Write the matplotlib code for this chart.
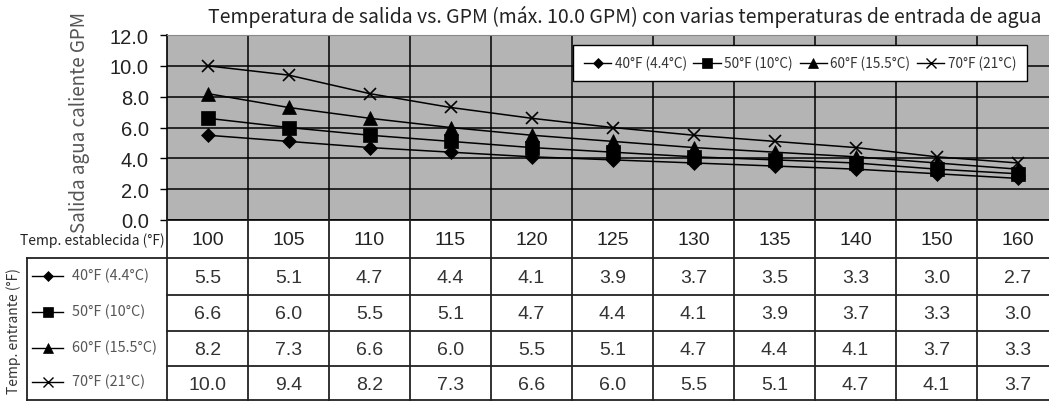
import matplotlib
matplotlib.use("Agg")
import matplotlib.pyplot as plt
from matplotlib.lines import Line2D

# ---- data ----
set_temps = ["100", "105", "110", "115", "120", "125", "130", "135", "140", "150", "160"]
series_labels = ["40°F (4.4°C)", "50°F (10°C)", "60°F (15.5°C)", "70°F (21°C)"]
gpm_40 = [5.5, 5.1, 4.7, 4.4, 4.1, 3.9, 3.7, 3.5, 3.3, 3.0, 2.7]
gpm_50 = [6.6, 6.0, 5.5, 5.1, 4.7, 4.4, 4.1, 3.9, 3.7, 3.3, 3.0]
gpm_60 = [8.2, 7.3, 6.6, 6.0, 5.5, 5.1, 4.7, 4.4, 4.1, 3.7, 3.3]
gpm_70 = [10.0, 9.4, 8.2, 7.3, 6.6, 6.0, 5.5, 5.1, 4.7, 4.1, 3.7]
y_ticks = [0.0, 2.0, 4.0, 6.0, 8.0, 10.0, 12.0]
title = "Temperatura de salida vs. GPM (máx. 10.0 GPM) con varias temperaturas de entrada de agua"
y_label = "Salida agua caliente GPM"
header_label = "Temp. establecida (°F)"
row_axis_label = "Temp. entrante (°F)"

series = [gpm_40, gpm_50, gpm_60, gpm_70]
markers = ["D", "s", "^", "x"]
msizes = [7, 10, 10, 9]
lmsizes = [5, 7, 7, 7]

SANS = ["Noto Sans CJK JP", "DejaVu Sans"]
NUM = ["Liberation Sans", "DejaVu Sans"]

W, H = 1049, 402
fig = plt.figure(figsize=(W / 100, H / 100), dpi=100)
fig.patch.set_facecolor("white")

col_w = 81
x0 = 167
ncol = len(set_temps)
ax_w = col_w * ncol
top_px, bot_px = 36, 221

ax = fig.add_axes([x0 / W, 1 - bot_px / H, ax_w / W, (bot_px - top_px) / H])
ax.set_facecolor("#b4b4b4")
xs = list(range(ncol))
for vals, m, ms in zip(series, markers, msizes):
    ax.plot(xs, vals, color="black", lw=1.1, marker=m, ms=ms,
            mew=1.2 if m == "x" else 0.5, mfc="black", mec="black", zorder=3)
ax.set_xlim(-0.5, ncol - 0.5)
ax.set_ylim(0, 12)
ax.set_yticks(y_ticks)
ax.set_yticklabels([f"{v:.1f}" for v in y_ticks], fontfamily=NUM, fontsize=14.5, color="#222")
ax.set_xticks([i + 0.5 for i in range(ncol - 1)])
ax.set_xticklabels([])
ax.tick_params(axis="x", length=0)
ax.tick_params(axis="y", length=5, width=1, color="black", pad=8)
ax.grid(True, axis="both", color="black", lw=1.1, zorder=1)
ax.set_axisbelow(True)
ax.spines["right"].set_visible(False)
ax.spines["top"].set_color("#888")
ax.spines["left"].set_color("black")
ax.spines["left"].set_linewidth(1.2)
ax.spines["bottom"].set_color("black")
ax.spines["bottom"].set_linewidth(1.2)

handles = [Line2D([0], [0], color="black", lw=1.0, marker=m, ms=ms, mfc="black", mec="black",
                  mew=1.0 if m == "x" else 0.5)
           for m, ms in zip(markers, lmsizes)]
leg = ax.legend(handles, series_labels, ncol=4, loc="upper left",
                bbox_to_anchor=((573 - x0) / ax_w, 1 - (46 - top_px) / (bot_px - top_px)),
                frameon=True, fancybox=False, edgecolor="black", framealpha=1,
                prop={"family": SANS, "size": 9.8}, handlelength=2.0, handletextpad=0.25,
                columnspacing=0.5, borderpad=0.8, borderaxespad=0)
leg.get_frame().set_linewidth(1.0)
for t in leg.get_texts():
    t.set_color("#333")

fig.text(625 / W, 1 - 17 / H, title, ha="center", va="center", fontfamily=SANS,
         fontsize=14, color="#222")
fig.text(79 / W, 1 - 122.5 / H, y_label, ha="center", va="center", rotation=90,
         fontfamily=SANS, fontsize=13.5, color="#555")

# ---- table (y in pixel rows from the top of the figure) ----
tax = fig.add_axes([0, 0, (x0 + ax_w) / W, (H - bot_px) / H])
tax.set_xlim(-0.5 - x0 / col_w, ncol - 0.5)
tax.set_ylim(H, bot_px)
tax.axis("off")

row_edges = [221, 259, 296, 332, 367, 401.5]
lc = "#222"
lw = 1.3
for i in range(ncol + 1):
    xb = i - 0.5
    tax.plot([xb, xb], [row_edges[0], row_edges[-1]], color=lc, lw=lw, clip_on=False)
for yb in row_edges[1:]:
    tax.plot([-0.5, ncol - 0.5], [yb, yb], color=lc, lw=lw, clip_on=False)
lx0 = -0.5 - (x0 - 27) / col_w
tax.plot([lx0, -0.5], [row_edges[1], row_edges[1]], color=lc, lw=lw)
tax.plot([lx0, lx0], [row_edges[1], row_edges[-1]], color=lc, lw=lw)
tax.plot([lx0, -0.5], [row_edges[-1], row_edges[-1]], color=lc, lw=lw)

for i, lab in enumerate(set_temps):
    tax.text(i, (row_edges[0] + row_edges[1]) / 2 + 1, lab, ha="center", va="center",
             fontfamily=NUM, fontsize=14, color="#222")
for r, vals in enumerate(series):
    yc = (row_edges[r + 1] + row_edges[r + 2]) / 2
    for i, v in enumerate(vals):
        tax.text(i, yc + 1, f"{v:.1f}", ha="center", va="center",
                 fontfamily=NUM, fontsize=14, color="#333")
    xa = -0.5 - (x0 - 32) / col_w
    xb = -0.5 - (x0 - 63) / col_w
    xm = -0.5 - (x0 - 48) / col_w
    tax.plot([xa, xb], [yc - 1, yc - 1], color="black", lw=1.0)
    m = markers[r]
    tax.plot([xm], [yc - 1], marker=m, ms=lmsizes[r], color="black", mfc="black", mec="black",
             mew=1.0 if m == "x" else 0.5)
    tax.text(-0.5 - (x0 - 72) / col_w, yc - 2, series_labels[r], ha="left", va="center",
             fontfamily=SANS, fontsize=10.4, color="#555")

tax.text(-0.5 - 2 / col_w, (row_edges[0] + row_edges[1]) / 2 + 1, header_label, ha="right",
         va="center", fontfamily=SANS, fontsize=10, color="#222")
tax.text(-0.5 - (x0 - 14) / col_w, 331, row_axis_label, ha="center", va="center",
         rotation=90, fontfamily=SANS, fontsize=10, color="#333")

fig.savefig("out.png", dpi=100, facecolor="white")
